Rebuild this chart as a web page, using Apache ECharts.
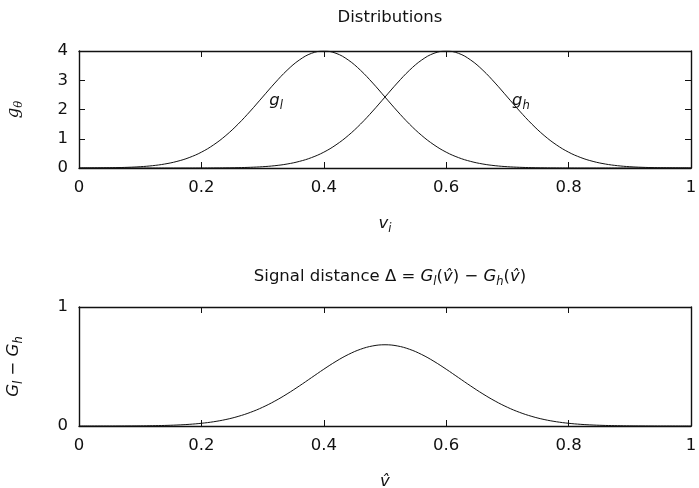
<!DOCTYPE html>
<html>
<head>
<meta charset="utf-8">
<style>
  html, body { margin: 0; padding: 0; background: #fff; }
  #chart { width: 699px; height: 488px; }
</style>
<script src="https://cdn.jsdelivr.net/npm/echarts@6/dist/echarts.min.js"></script>
</head>
<body>
<div id="chart"></div>
<script>
// x positions (v) shared by all curves
const vValues = [0.00,0.02,0.04,0.06,0.08,0.10,0.12,0.14,0.16,0.18,
                 0.20,0.22,0.24,0.26,0.28,0.30,0.32,0.34,0.36,0.38,
                 0.40,0.42,0.44,0.46,0.48,0.50,0.52,0.54,0.56,0.58,
                 0.60,0.62,0.64,0.66,0.68,0.70,0.72,0.74,0.76,0.78,
                 0.80,0.82,0.84,0.86,0.88,0.90,0.92,0.94,0.96,0.98,1.00];
// g_l density (top panel)
const gLow = [0.001,0.003,0.006,0.012,0.024,0.044,0.079,0.136,0.225,0.356,
              0.541,0.792,1.112,1.501,1.947,2.426,2.904,3.341,3.692,3.921,
              4.000,3.921,3.692,3.341,2.904,2.426,1.947,1.501,1.112,0.792,
              0.541,0.356,0.225,0.136,0.079,0.044,0.024,0.012,0.006,0.003,
              0.001,0,0,0,0,0,0,0,0,0,0];
// g_h density (top panel)
const gHigh = [0,0,0,0,0,0,0,0,0,0,
               0.001,0.003,0.006,0.012,0.024,0.044,0.079,0.136,0.225,0.356,
               0.541,0.792,1.112,1.501,1.947,2.426,2.904,3.341,3.692,3.921,
               4.000,3.921,3.692,3.341,2.904,2.426,1.947,1.501,1.112,0.792,
               0.541,0.356,0.225,0.136,0.079,0.044,0.024,0.012,0.006,0.003,0.001];
// G_l - G_h (bottom panel)
const deltaVals = [0.0000,0.0001,0.0002,0.0003,0.0007,0.0013,0.0026,0.0047,0.0082,0.0139,
                   0.0228,0.0358,0.0546,0.0805,0.1144,0.1573,0.2093,0.2696,0.3364,0.4068,
                   0.4772,0.5434,0.6006,0.6449,0.6730,0.6827,0.6730,0.6449,0.6006,0.5434,
                   0.4772,0.4068,0.3364,0.2696,0.2093,0.1573,0.1144,0.0805,0.0546,0.0358,
                   0.0228,0.0139,0.0082,0.0047,0.0026,0.0013,0.0007,0.0003,0.0002,0.0001,0.0000];
// tick settings
const xTickInterval = 0.2;
const topYMax = 4, topYInterval = 1;
const botYMax = 1, botYInterval = 1;
// curve label positions (data coords)
const labelGl = [0.322, 2.3];
const labelGh = [0.722, 2.3];

const FONT = 'DejaVu Sans';
const FS = 16.5;
const ink = '#111';

const rich = {
  n:  { fontFamily: FONT, fontSize: FS, fontWeight: 'normal', color: ink, lineHeight: 22, verticalAlign: 'middle' },
  i:  { fontFamily: FONT, fontSize: FS, fontWeight: 'normal', fontStyle: 'italic', color: ink, lineHeight: 22, verticalAlign: 'middle' },
  s:  { fontFamily: FONT, fontSize: 11.5, fontWeight: 'normal', fontStyle: 'italic', color: ink, lineHeight: 12, verticalAlign: 'bottom' },
  ss: { fontFamily: 'DejaVu Serif', fontSize: 11.5, fontWeight: 'normal', fontStyle: 'italic', color: ink, lineHeight: 12, verticalAlign: 'bottom' },
  is: { fontFamily: 'DejaVu Serif', fontSize: FS, fontWeight: 'normal', fontStyle: 'italic', color: ink, lineHeight: 22, verticalAlign: 'middle' }
};

function pairs(ys) { return vValues.map((v, k) => [v, ys[k]]); }

const axisLine = { show: true, onZero: false, lineStyle: { color: ink, width: 1.4 } };
const axisTick = { show: true, inside: true, length: 6, lineStyle: { color: ink, width: 1 } };
const axisLabel = { color: ink, fontFamily: FONT, fontSize: FS, margin: 11 };

function xAxes(gi, nameText) {
  return [
    { type: 'value', gridIndex: gi, position: 'bottom', min: 0, max: 1, interval: xTickInterval,
      axisLine, axisTick, splitLine: { show: false },
      axisLabel: Object.assign({}, axisLabel, { formatter: v => String(+v.toFixed(1)) }),
      name: nameText, nameLocation: 'middle', nameGap: 45,
      nameTextStyle: { rich: rich } },
    { type: 'value', gridIndex: gi, position: 'top', min: 0, max: 1, interval: xTickInterval,
      axisLine, axisTick, splitLine: { show: false }, axisLabel: { show: false } }
  ];
}
function yAxes(gi, max, interval, nameText) {
  return [
    { type: 'value', gridIndex: gi, position: 'left', min: 0, max: max, interval: interval,
      axisLine, axisTick, splitLine: { show: false }, axisLabel,
      name: nameText, nameLocation: 'middle', nameGap: 54, nameRotate: 90,
      nameTextStyle: { rich: rich } },
    { type: 'value', gridIndex: gi, position: 'right', min: 0, max: max, interval: interval,
      axisLine, axisTick, splitLine: { show: false }, axisLabel: { show: false } }
  ];
}

const chart = echarts.init(document.getElementById('chart'), null, { renderer: 'canvas' });
const lineStyle = { color: '#111', width: 1 };

function curveLabel(coord, text) {
  return {
    symbol: 'circle', symbolSize: 1, silent: true,
    itemStyle: { color: 'rgba(0,0,0,0)' },
    label: { show: true, position: 'inside', formatter: text, rich: rich },
    data: [{ coord: coord }]
  };
}

chart.setOption({
  backgroundColor: '#fff',
  animation: false,
  title: [
    { text: 'Distributions', left: 385, textAlign: 'center', top: 4,
      textStyle: { fontFamily: FONT, fontSize: FS, fontWeight: 'normal', color: ink } },
    { text: '{n|Signal distance Δ = }{i|G}{s|l}{n|(}{i|v\u0302}{n|) − }{i|G}{s|h}{n|(}{i|v\u0302}{n|)}',
      left: 385, textAlign: 'center', top: 261,
      textStyle: { fontWeight: 'normal', rich: rich } }
  ],
  grid: [
    { left: 79, right: 8, top: 51, height: 117, containLabel: false, outerBoundsMode: 'none' },
    { left: 79, right: 8, top: 307, height: 119, containLabel: false, outerBoundsMode: 'none' }
  ],
  xAxis: [].concat(xAxes(0, '{i|v}{s|i}'), xAxes(1, '{i|v\u0302}')),
  yAxis: [].concat(yAxes(0, topYMax, topYInterval, '{is|g}{ss|θ}'),
                   yAxes(1, botYMax, botYInterval, '{i|G}{s|l}{n| − }{i|G}{s|h}')),
  series: [
    { type: 'line', xAxisIndex: 0, yAxisIndex: 0, data: pairs(gLow), showSymbol: false, smooth: 0.4,
      lineStyle, markPoint: curveLabel(labelGl, '{i|g}{s|l}') },
    { type: 'line', xAxisIndex: 0, yAxisIndex: 0, data: pairs(gHigh), showSymbol: false, smooth: 0.4,
      lineStyle, markPoint: curveLabel(labelGh, '{i|g}{s|h}') },
    { type: 'line', xAxisIndex: 2, yAxisIndex: 2, data: pairs(deltaVals), showSymbol: false, smooth: 0.4,
      lineStyle }
  ]
});
</script>
</body>
</html>
